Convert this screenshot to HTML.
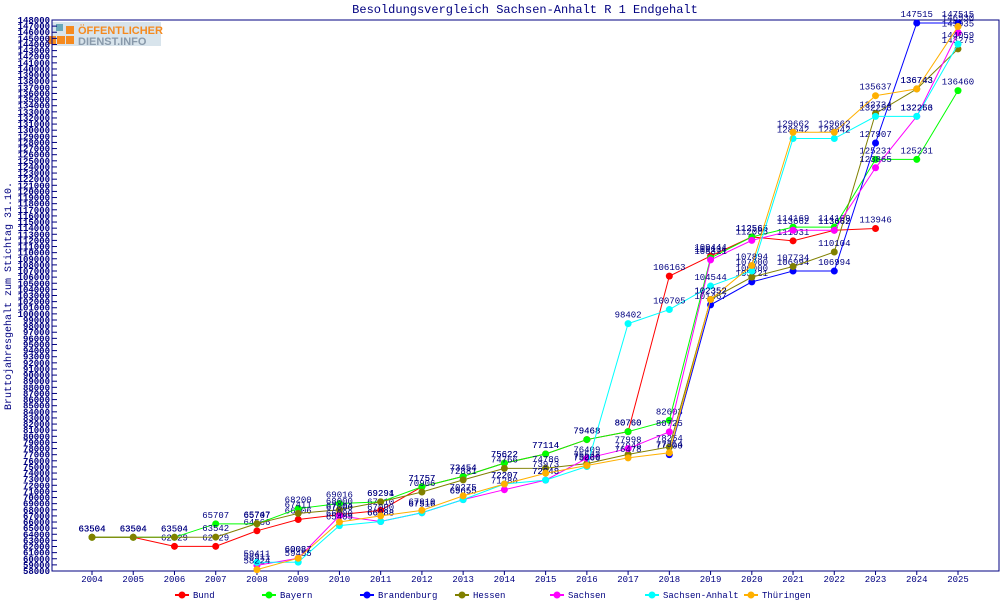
<!DOCTYPE html>
<html><head><meta charset="utf-8"><style>
body{margin:0;background:#fff;}
svg{display:block;font-family:"Liberation Mono","DejaVu Sans Mono",monospace;}
</style></head><body>
<svg id="c" width="1000" height="600">
<g>
<rect x="52" y="22" width="109" height="24" fill="#d8e4ec"/>
<rect x="56" y="24" width="7" height="7" fill="#6aa8b8"/>
<rect x="66" y="26" width="8" height="8" fill="#f58a1f"/>
<rect x="48" y="36" width="8" height="8" fill="#f58a1f"/>
<rect x="57" y="36" width="8" height="8" fill="#f58a1f"/>
<rect x="66" y="36" width="8" height="8" fill="#f58a1f"/>
<text x="78" y="34" font-size="11" font-weight="bold" fill="#f58a1f" font-family="Liberation Sans, sans-serif">ÖFFENTLICHER</text>
<text x="78" y="45" font-size="11" font-weight="bold" fill="#8899aa" font-family="Liberation Sans, sans-serif">DIENST.INFO</text>
</g>
<text x="525" y="13" font-size="12" fill="#000080" text-anchor="middle">Besoldungsvergleich Sachsen-Anhalt R 1 Endgehalt</text>
<text transform="translate(11,296) rotate(-90)" font-size="10" fill="#000080" text-anchor="middle">Bruttojahresgehalt zum Stichtag 31.10.</text>
<rect x="52" y="20" width="947" height="551" fill="none" stroke="#000080"/>
<g id="axes"></g><g id="series"></g><g id="legend"></g>
</svg>
<script>
const years=[2004,2005,2006,2007,2008,2009,2010,2011,2012,2013,2014,2015,2016,2017,2018,2019,2020,2021,2022,2023,2024,2025];
const seriesNames=["Bund","Bayern","Brandenburg","Hessen","Sachsen","Sachsen-Anhalt","Thüringen"];
const bund=[63504,63504,62029,62029,64566,66406,67204,67910,71757,73454,75622,77114,79468,80760,106163,109444,112565,111931,113662,113946,null,null];
const bayern=[63504,63504,63504,65707,65707,68200,69016,69294,71757,73454,75622,77114,79468,80760,82603,109134,112565,114169,114169,125231,125231,136460];
const brandenburg=[null,null,null,null,null,null,null,null,null,null,null,null,null,null,77000,101467,105221,106994,106994,127907,147515,147515];
const hessen=[63504,63504,63504,63542,65747,67411,68000,69291,70906,72881,74766,74786,75533,77046,78254,102352,106000,107734,110104,132734,136743,143275];
const sachsen=[null,null,null,null,58911,60087,67000,66088,67516,69655,71280,72848,76409,77998,80725,108811,112005,113662,113662,123865,132266,145935];
const sachsenAnhalt=[null,null,null,null,59411,59455,65409,66088,67516,69655,72207,72848,75066,98402,100705,104544,107000,128642,128642,132253,132253,144059];
const thueringen=[null,null,null,null,58224,60087,66000,67000,67910,70275,72207,73973,75230,76478,77314,102352,107894,129662,129662,135637,136743,146930];
const allSeries=[bund,bayern,brandenburg,hessen,sachsen,sachsenAnhalt,thueringen];
const colors=["#ff0000","#00ff00","#0000ff","#808000","#ff00ff","#00ffff","#ffb000"];
const yMin=58000,yMax=148000,yStep=1000;
const X=i=>92+i*(958-92)/21;
const Y=v=>571-(v-yMin)*(551)/(yMax-yMin);
const NS="http://www.w3.org/2000/svg";
function mk(t,a,p){const e=document.createElementNS(NS,t);for(const k in a)e.setAttribute(k,a[k]);p.appendChild(e);return e;}
const ax=document.getElementById('axes');
for(let v=yMin;v<=yMax;v+=yStep){
 const y=Y(v);
 const tk=mk('line',{x1:52,x2:57,y1:y,y2:y,stroke:'#000080'},ax);
 
 
 const t=mk('text',{x:50,y:y+3,'font-size':9,'font-weight':'bold',fill:'#000080','text-anchor':'end'},ax);
 t.textContent=v;
 
 
}
years.forEach((yr,i)=>{
 const t=mk('text',{x:X(i),y:582,'font-size':9,fill:'#000080','text-anchor':'middle'},ax);
 t.textContent=yr;
 
 
 const tk=mk('line',{x1:X(i),x2:X(i),y1:571,y2:575,stroke:'#000080'},ax);
 
 
});
const sg=document.getElementById('series');
allSeries.forEach((d,s)=>{
 const g=mk('g',{},sg);
 
 
 let pts=[];
 d.forEach((v,i)=>{if(v!=null)pts.push(X(i)+','+Y(v));});
 const pl=mk('polyline',{points:pts.join(' '),fill:'none',stroke:colors[s],'stroke-width':1},g);
 
 
 d.forEach((v,i)=>{
  if(v==null)return;
  const c=mk('circle',{cx:X(i),cy:Y(v),r:3.5,fill:colors[s]},g);
  
  
  const t=mk('text',{x:X(i),y:Y(v)-6,'font-size':9,fill:'#000080','text-anchor':'middle'},g);
  t.textContent=v;
  
  
 });
});
const lg=document.getElementById('legend');
const lx=[183,270,368,463,558,653,752];
seriesNames.forEach((n,s)=>{
 const g=mk('g',{},lg);
 
 
 mk('line',{x1:lx[s]-8,x2:lx[s]+6,y1:595,y2:595,stroke:colors[s],'stroke-width':2},g);
 mk('circle',{cx:lx[s]-1,cy:595,r:3.5,fill:colors[s]},g);
 const t=mk('text',{x:lx[s]+10,y:598,'font-size':9,fill:'#000080'},g);
 t.textContent=n;
});
</script>
</body></html>
